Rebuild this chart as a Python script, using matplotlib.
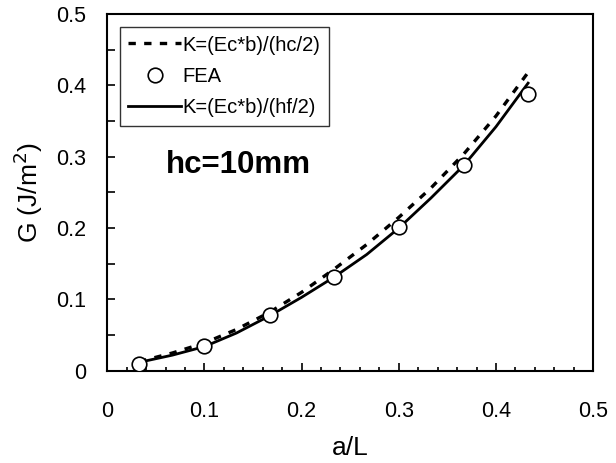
import matplotlib.pyplot as plt
from matplotlib.ticker import MultipleLocator

plt.rcParams["font.family"] = ["Liberation Sans", "DejaVu Sans"]

# FEA points
fea_x = [0.033, 0.100, 0.167, 0.233, 0.300, 0.367, 0.433]
fea_g = [0.010, 0.035, 0.078, 0.132, 0.202, 0.289, 0.388]

# analytical curves
ana_x = [0.033, 0.067, 0.100, 0.133, 0.167, 0.200, 0.233, 0.267, 0.300, 0.333, 0.367, 0.400, 0.433]
g_hc = [0.013, 0.025, 0.039, 0.058, 0.082, 0.110, 0.142, 0.177, 0.215, 0.256, 0.304, 0.357, 0.418]
g_hf = [0.012, 0.022, 0.034, 0.053, 0.077, 0.103, 0.131, 0.163, 0.200, 0.242, 0.288, 0.342, 0.403]

LBL_HC = "K=(Ec*b)/(hc/2)"
LBL_FEA = "FEA"
LBL_HF = "K=(Ec*b)/(hf/2)"

fig = plt.figure(figsize=(6.16, 4.63), dpi=100)
ax = fig.add_axes([0.174, 0.199, 0.789, 0.771])

ax.plot(ana_x, g_hc, color="black", lw=2.4, ls=(0, (2.2, 2.5)), label=LBL_HC)
ax.plot(fea_x, fea_g, ls="none", marker="o", ms=10.5, mfc="white", mec="black",
        mew=1.2, label=LBL_FEA, zorder=4)
ax.plot(ana_x, g_hf, color="black", lw=2.0, label=LBL_HF)

ax.set_xlim(0, 0.5)
ax.set_ylim(0, 0.5)
ax.xaxis.set_major_locator(MultipleLocator(0.1))
ax.xaxis.set_minor_locator(MultipleLocator(0.02))
ax.yaxis.set_major_locator(MultipleLocator(0.1))
ax.yaxis.set_minor_locator(MultipleLocator(0.05))
fmt = plt.FuncFormatter(lambda v, p: "0" if abs(v) < 1e-9 else f"{v:.1f}")
ax.xaxis.set_major_formatter(fmt)
ax.yaxis.set_major_formatter(fmt)

ax.tick_params(which="both", direction="in", top=False, right=False, width=1.2)
ax.tick_params(axis="x", which="major", length=6, labelsize=15.5, pad=22)
ax.tick_params(axis="x", which="minor", length=3)
ax.tick_params(axis="y", which="major", length=6, labelsize=15.5, pad=15)
ax.tick_params(axis="y", which="minor", length=6)
for s in ax.spines.values():
    s.set_linewidth(1.5)

ax.set_xlabel("a/L", fontsize=19, labelpad=10)
ax.set_ylabel("G (J/m$^2$)", fontsize=19, labelpad=8)

ax.text(0.135, 0.289, "hc=10mm", fontsize=22.5, fontweight="bold", ha="center", va="center")

leg = ax.legend(loc="upper left", bbox_to_anchor=(0.027, 0.962), fontsize=14.5,
                frameon=True, fancybox=False, edgecolor="black", handlelength=2.6,
                handletextpad=0.1, borderpad=0.4, labelspacing=0.62, borderaxespad=0)
leg.get_frame().set_linewidth(1.0)

fig.savefig("out.png", dpi=100)
